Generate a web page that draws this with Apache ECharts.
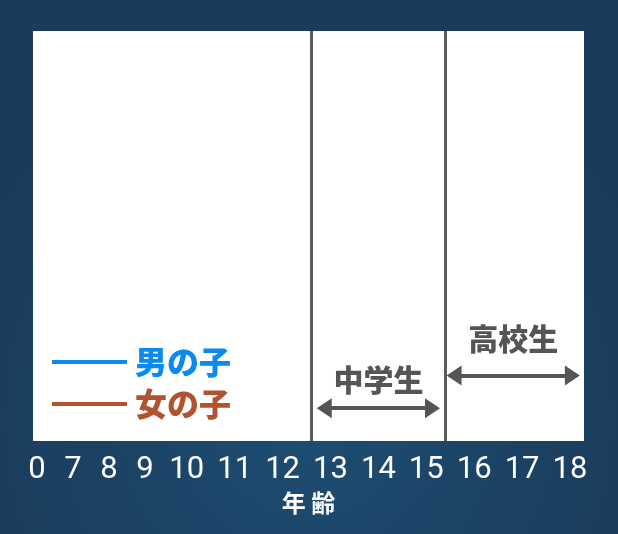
<!DOCTYPE html>
<html>
<head>
<meta charset="utf-8">
<style>
html,body{margin:0;padding:0;width:618px;height:534px;overflow:hidden;
background:radial-gradient(ellipse 60% 70% at 50% 78%, #1d4e72 0%, #1b4467 45%, #1b3b5a 100%);}
#chart{width:618px;height:534px;}
</style>
<script src="https://cdn.jsdelivr.net/npm/echarts@6/dist/echarts.min.js"></script>
</head>
<body>
<div id="chart"></div>
<script>
// ---- data ----
const ageLabels = ['0','7','8','9','10','11','12','13','14','15','16','17','18'];
const seriesNames = ['男の子','女の子'];
const seriesColors = ['#0a8aee','#b3522f'];
const boysData = [];
const girlsData = [];
const stageBoundaries = [12.6, 15.4];          // 中学生 / 高校生 separators (age)
const stageNames = ['中学生','高校生'];
const stageSpans = [[12.87, 15.13], [15.58, 18.05]];  // arrow extents (age)
const stageLevels = [8, 16];                   // arrow height (0-100 scale)

// ---- axis layout: labels are spaced like text, digit widths + gap ----
const GAP = 2;
const labelPos = [];
ageLabels.forEach((l, i) => {
  if (i === 0) labelPos.push(0);
  else labelPos.push(labelPos[i-1] + (ageLabels[i-1].length + l.length) / 2 + GAP);
});
const ageNums = ageLabels.map(Number);
function ageToUnit(age) {
  for (let i = 1; i < ageNums.length; i++) {
    if (age <= ageNums[i]) {
      const t = (age - ageNums[i-1]) / (ageNums[i] - ageNums[i-1]);
      return labelPos[i-1] + t * (labelPos[i] - labelPos[i-1]);
    }
  }
  const n = ageNums.length - 1;
  const slope = (labelPos[n] - labelPos[n-1]) / (ageNums[n] - ageNums[n-1]);
  return labelPos[n] + (age - ageNums[n]) * slope;
}
const xMin = labelPos[0] - 0.34;
const xMax = labelPos[labelPos.length - 1] + 1.17;

const chart = echarts.init(document.getElementById('chart'), null, {renderer: 'canvas'});

const stageMarkData = stageNames.map((name, i) => [
  {coord: [ageToUnit(stageSpans[i][0]), stageLevels[i]], name: name,
   label: {distance: i === 0 ? 14 : 22}},
  {coord: [ageToUnit(stageSpans[i][1]), stageLevels[i]]}
]);

const option = {
  backgroundColor: 'transparent',
  animation: false,
  grid: {left: 33, right: 34, top: 31, bottom: 93, show: true,
         backgroundColor: '#ffffff', borderWidth: 0},
  legend: {
    orient: 'vertical', left: 47, top: 341, itemGap: 10,
    itemWidth: 75, itemHeight: 4, icon: 'rect',
    data: seriesNames.map((n, i) => ({name: n, textStyle: {color: seriesColors[i]}})),
    textStyle: {fontSize: 32, fontWeight: 900, lineHeight: 32,
                fontFamily: '"Noto Sans CJK JP", sans-serif', padding: [0,0,0,3]}
  },
  xAxis: {
    type: 'value', min: xMin, max: xMax,
    axisLine: {show: false}, axisTick: {show: false}, splitLine: {show: false},
    axisLabel: {
      customValues: labelPos,
      formatter: (v) => {
        let best = 0;
        labelPos.forEach((p, i) => { if (Math.abs(p - v) < Math.abs(labelPos[best] - v)) best = i; });
        return ageLabels[best];
      },
      color: '#ffffff', fontSize: 31, margin: 14,
      fontFamily: 'Roboto, sans-serif'
    },
    name: '年 齢', nameLocation: 'middle', nameGap: 49,
    nameTextStyle: {color: '#ffffff', fontSize: 24, fontWeight: 'bold',
                    fontFamily: '"Noto Sans CJK JP", sans-serif'}
  },
  yAxis: {type: 'value', min: 0, max: 100, show: false, splitLine: {show: false}},
  series: [
    {name: seriesNames[0], type: 'line', data: boysData, color: seriesColors[0],
     lineStyle: {color: seriesColors[0], width: 4}, showSymbol: false},
    {name: seriesNames[1], type: 'line', data: girlsData, color: seriesColors[1],
     lineStyle: {color: seriesColors[1], width: 4}, showSymbol: false},
    {name: 'stages', type: 'line', data: [], silent: true,
     markLine: {
       silent: true, animation: false,
       symbol: ['none', 'none'],
       lineStyle: {color: '#5b5b5b', width: 3, type: 'solid'},
       label: {show: false},
       data: stageBoundaries.map(a => ({xAxis: ageToUnit(a)}))
     }},
    {name: 'stageArrows', type: 'line', data: [], silent: true,
     markLine: {
       silent: true, animation: false,
       symbol: ['triangle', 'triangle'], symbolSize: [20, 15],
       lineStyle: {color: '#555555', width: 4, type: 'solid'},
       label: {show: true, position: 'middle', formatter: '{b}', color: '#555555',
               fontSize: 30, fontWeight: 900, fontFamily: '"Noto Sans CJK JP", sans-serif'},
       emphasis: {disabled: true},
       data: stageMarkData
     }}
  ]
};
chart.setOption(option);
</script>
</body>
</html>
